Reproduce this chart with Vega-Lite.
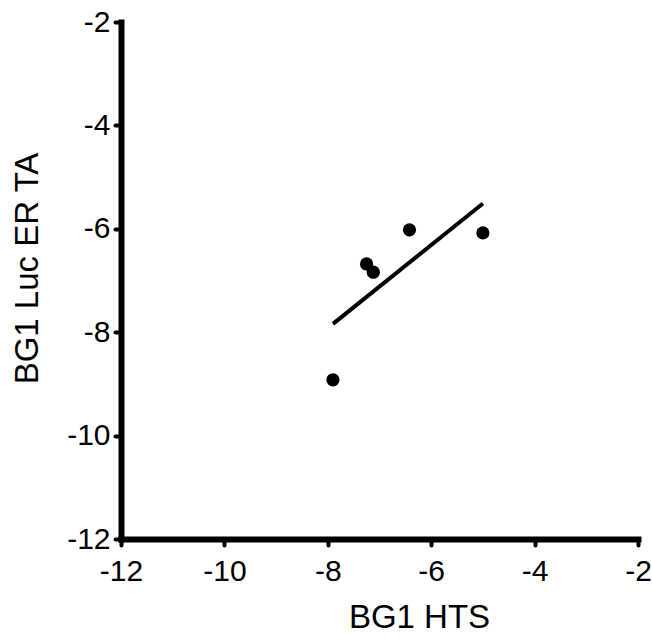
{
  "$schema": "https://vega.github.io/schema/vega-lite/v6.json",
  "width": 517,
  "height": 517,
  "autosize": {"type": "none"},
  "padding": {"left": 121, "top": 22, "right": 14, "bottom": 97},
  "background": "white",
  "config": {
    "view": {"stroke": null},
    "font": "Liberation Sans",
    "axis": {
      "grid": false,
      "domainColor": "black",
      "domainWidth": 6,
      "domainCap": "square",
      "tickColor": "black",
      "tickWidth": 4,
      "tickSize": 6,
      "tickCap": "round",
      "labelColor": "black",
      "labelFont": "Liberation Sans",
      "labelFontSize": 30,
      "labelExpr": "toString(datum.value)",
      "titleColor": "black",
      "titleFont": "Liberation Sans",
      "titleFontSize": 33,
      "titleFontWeight": "normal"
    }
  },
  "datasets": {
    "pts": [
      {"hts": -7.90, "ta": -8.92},
      {"hts": -7.25, "ta": -6.68},
      {"hts": -7.12, "ta": -6.84},
      {"hts": -6.42, "ta": -6.02},
      {"hts": -5.00, "ta": -6.08}
    ],
    "fit": [
      {"hts": -7.90, "ta": -7.84},
      {"hts": -5.00, "ta": -5.51}
    ]
  },
  "layer": [
    {
      "data": {"name": "fit"},
      "mark": {"type": "line", "color": "black", "strokeWidth": 4},
      "encoding": {
        "x": {"field": "hts", "type": "quantitative"},
        "y": {"field": "ta", "type": "quantitative"}
      }
    },
    {
      "data": {"name": "pts"},
      "mark": {"type": "circle", "color": "black", "opacity": 1, "size": 175},
      "encoding": {
        "x": {
          "field": "hts", "type": "quantitative",
          "scale": {"domain": [-12, -2], "nice": false, "zero": false},
          "axis": {
            "title": "BG1 HTS",
            "values": [-12, -10, -8, -6, -4, -2],
            "labelPadding": 11,
            "labelFlush": false,
            "titleX": 298,
            "titleY": 88,
            "titleBaseline": "alphabetic",
            "titleAnchor": null,
            "titleAlign": "center"
          }
        },
        "y": {
          "field": "ta", "type": "quantitative",
          "scale": {"domain": [-12, -2], "nice": false, "zero": false},
          "axis": {
            "title": "BG1 Luc ER TA",
            "values": [-12, -10, -8, -6, -4, -2],
            "labelPadding": 5,
            "labelFlush": false,
            "titleX": -84,
            "titleY": 246,
            "titleAngle": -90,
            "titleBaseline": "alphabetic",
            "titleAlign": "center",
            "titleAnchor": null
          }
        }
      }
    }
  ]
}
